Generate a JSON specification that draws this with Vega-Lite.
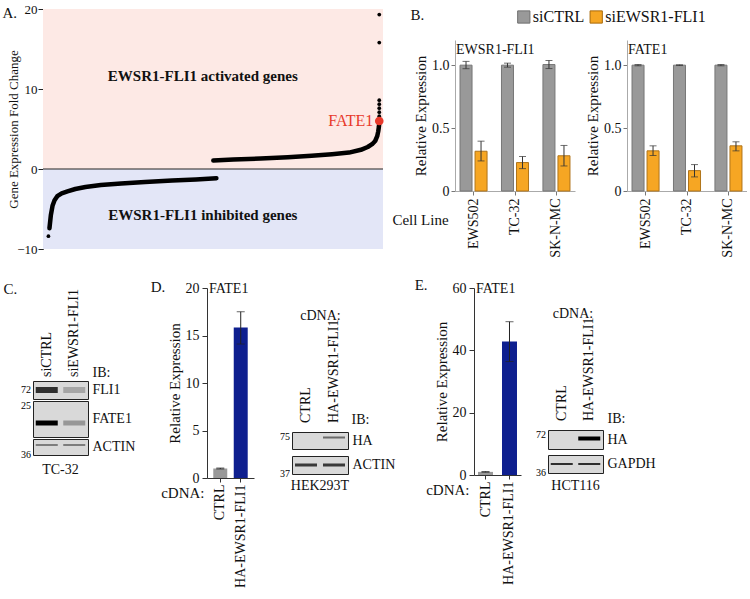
{
  "$schema": "https://vega.github.io/schema/vega-lite/v6.json",
  "background": "white",
  "padding": {"left": 2, "top": 3, "right": 0, "bottom": 0},
  "config": {
    "font": "Liberation Serif",
    "view": {"stroke": null},
    "style": {"guide-label": {"font": "Liberation Serif"}, "guide-title": {"font": "Liberation Serif"}, "group-title": {"font": "Liberation Serif"}},
    "axis": {"labelFont": "Liberation Serif", "titleFont": "Liberation Serif", "labelFontSize": 14, "titleFontSize": 15, "titleFontWeight": "normal", "labelColor": "#111", "titleColor": "#111", "domainColor": "#333", "tickColor": "#333", "grid": false, "tickSize": 4, "labelPadding": 2, "titlePadding": 3},
    "title": {"font": "Liberation Serif", "fontSize": 15, "fontWeight": "normal", "color": "#111", "anchor": "start"}
  },
  "datasets": {
    "curve": [
      {"set": "down", "rank": 19, "fc": -7.4}, {"set": "down", "rank": 23, "fc": -5.8}, {"set": "down", "rank": 28, "fc": -4.6},
      {"set": "down", "rank": 34, "fc": -3.9}, {"set": "down", "rank": 42, "fc": -3.4}, {"set": "down", "rank": 55, "fc": -3.05},
      {"set": "down", "rank": 72, "fc": -2.8}, {"set": "down", "rank": 95, "fc": -2.5}, {"set": "down", "rank": 125, "fc": -2.25},
      {"set": "down", "rank": 170, "fc": -2.0}, {"set": "down", "rank": 230, "fc": -1.8}, {"set": "down", "rank": 300, "fc": -1.62},
      {"set": "down", "rank": 380, "fc": -1.45}, {"set": "down", "rank": 450, "fc": -1.3}, {"set": "down", "rank": 510, "fc": -1.15},
      {"set": "up", "rank": 501, "fc": 1.05}, {"set": "up", "rank": 560, "fc": 1.18}, {"set": "up", "rank": 640, "fc": 1.3},
      {"set": "up", "rank": 720, "fc": 1.46}, {"set": "up", "rank": 790, "fc": 1.65}, {"set": "up", "rank": 850, "fc": 1.85},
      {"set": "up", "rank": 900, "fc": 2.05}, {"set": "up", "rank": 935, "fc": 2.4}, {"set": "up", "rank": 955, "fc": 2.75},
      {"set": "up", "rank": 968, "fc": 3.1}, {"set": "up", "rank": 977, "fc": 3.5}, {"set": "up", "rank": 983, "fc": 4.1},
      {"set": "up", "rank": 986, "fc": 4.7}, {"set": "up", "rank": 988, "fc": 5.3}, {"set": "up", "rank": 989, "fc": 5.8}
    ],
    "dots": [
      {"rank": 16, "fc": -8.4}, {"rank": 989, "fc": 6.6}, {"rank": 989, "fc": 7.1}, {"rank": 989, "fc": 7.6},
      {"rank": 989, "fc": 8.1}, {"rank": 989, "fc": 8.6}, {"rank": 989, "fc": 15.8}, {"rank": 989, "fc": 19.3}
    ],
    "fate1": [{"gene": "FATE1", "rank": 989, "fc": 6.0}],
    "regions": [
      {"label": "EWSR1-FLI1 activated genes", "lo": 0, "hi": 20, "rank": 470, "fc": 11.6},
      {"label": "EWSR1-FLI1 inhibited genes", "lo": -10, "hi": 0, "rank": 470, "fc": -5.75}
    ],
    "knockdown": [
      {"target": "EWSR1-FLI1", "line": "EWS502", "treatment": "siCTRL", "mean": 1.0, "lo": 0.972, "hi": 1.03},
      {"target": "EWSR1-FLI1", "line": "EWS502", "treatment": "siEWSR1-FLI1", "mean": 0.316, "lo": 0.239, "hi": 0.396},
      {"target": "EWSR1-FLI1", "line": "TC-32", "treatment": "siCTRL", "mean": 1.0, "lo": 0.984, "hi": 1.016},
      {"target": "EWSR1-FLI1", "line": "TC-32", "treatment": "siEWSR1-FLI1", "mean": 0.226, "lo": 0.178, "hi": 0.274},
      {"target": "EWSR1-FLI1", "line": "SK-N-MC", "treatment": "siCTRL", "mean": 1.005, "lo": 0.973, "hi": 1.037},
      {"target": "EWSR1-FLI1", "line": "SK-N-MC", "treatment": "siEWSR1-FLI1", "mean": 0.28, "lo": 0.199, "hi": 0.362},
      {"target": "FATE1", "line": "EWS502", "treatment": "siCTRL", "mean": 1.0, "lo": 0.995, "hi": 1.005},
      {"target": "FATE1", "line": "EWS502", "treatment": "siEWSR1-FLI1", "mean": 0.319, "lo": 0.282, "hi": 0.359},
      {"target": "FATE1", "line": "TC-32", "treatment": "siCTRL", "mean": 1.0, "lo": 0.997, "hi": 1.003},
      {"target": "FATE1", "line": "TC-32", "treatment": "siEWSR1-FLI1", "mean": 0.162, "lo": 0.112, "hi": 0.21},
      {"target": "FATE1", "line": "SK-N-MC", "treatment": "siCTRL", "mean": 1.0, "lo": 0.995, "hi": 1.005},
      {"target": "FATE1", "line": "SK-N-MC", "treatment": "siEWSR1-FLI1", "mean": 0.359, "lo": 0.319, "hi": 0.391}
    ],
    "overexp": [
      {"panel": "D", "cdna": "CTRL", "mean": 1.0, "lo": 0.95, "hi": 1.05},
      {"panel": "D", "cdna": "HA-EWSR1-FLI1", "mean": 15.85, "lo": 14.1, "hi": 17.5},
      {"panel": "E", "cdna": "CTRL", "mean": 1.0, "lo": 0.9, "hi": 1.1},
      {"panel": "E", "cdna": "HA-EWSR1-FLI1", "mean": 42.8, "lo": 36.4, "hi": 49.2}
    ],
    "blots": [
      {"blot": "C", "protein": "FLI1", "lane": "siCTRL", "signal": 0.85},
      {"blot": "C", "protein": "FLI1", "lane": "siEWSR1-FLI1", "signal": 0.25},
      {"blot": "C", "protein": "FATE1", "lane": "siCTRL", "signal": 1.0},
      {"blot": "C", "protein": "FATE1", "lane": "siEWSR1-FLI1", "signal": 0.3},
      {"blot": "C", "protein": "ACTIN", "lane": "siCTRL", "signal": 0.5},
      {"blot": "C", "protein": "ACTIN", "lane": "siEWSR1-FLI1", "signal": 0.5},
      {"blot": "D", "protein": "HA", "lane": "CTRL", "signal": 0.0},
      {"blot": "D", "protein": "HA", "lane": "HA-EWSR1-FLI1", "signal": 0.55},
      {"blot": "D", "protein": "ACTIN", "lane": "CTRL", "signal": 0.8},
      {"blot": "D", "protein": "ACTIN", "lane": "HA-EWSR1-FLI1", "signal": 0.8},
      {"blot": "E", "protein": "HA", "lane": "CTRL", "signal": 0.0},
      {"blot": "E", "protein": "HA", "lane": "HA-EWSR1-FLI1", "signal": 1.0},
      {"blot": "E", "protein": "GAPDH", "lane": "CTRL", "signal": 0.85},
      {"blot": "E", "protein": "GAPDH", "lane": "HA-EWSR1-FLI1", "signal": 0.85}
    ],
    "markers": [
      {"blot": "C", "protein": "FLI1", "kDa": "72"},
      {"blot": "C", "protein": "FATE1", "kDa": "25"},
      {"blot": "C", "protein": "ACTIN", "kDa": "36"},
      {"blot": "D", "protein": "HA", "kDa": "75"},
      {"blot": "D", "protein": "ACTIN", "kDa": "37"},
      {"blot": "E", "protein": "HA", "kDa": "72"},
      {"blot": "E", "protein": "GAPDH", "kDa": "36"}
    ]
  },
  "resolve": {"scale": {"color": "independent"}},
  "columns": 1,
  "align": "none",
  "spacing": 20,
  "concat": [
    {
      "columns": 2,
      "align": "none",
      "spacing": 7,
      "resolve": {"scale": {"color": "independent"}},
      "concat": [
        {
          "width": 350, "height": 240,
          "layer": [
            {"data": {"name": "regions"}, "transform": [{"filter": "datum.lo >= 0"}],
             "mark": {"type": "rect", "color": "#fde9e5"},
             "encoding": {
               "x": {"datum": 0, "type": "quantitative", "title": "A.", "scale": {"domain": [-29.4, 1000], "nice": false, "zero": false},
                     "axis": {"labels": false, "ticks": false, "domain": false, "title": "A.", "titleX": -31, "titleY": -232, "titleAngle": 0, "titleAlign": "left", "titleBaseline": "alphabetic", "titleFontSize": 15}},
               "x2": {"datum": 1000},
               "y": {"field": "lo", "type": "quantitative", "title": "Gene Expression Fold Change", "scale": {"domain": [-10, 20], "nice": false},
                     "axis": {"values": [-10, -5, 0, 5, 10, 15, 20], "offset": -10, "labelFontSize": 13, "titleFontSize": 13, "tickSize": 5, "labelPadding": 1, "titlePadding": -4, "domainColor": "#222", "tickColor": "#222"}},
               "y2": {"field": "hi"}}},
            {"data": {"name": "regions"}, "transform": [{"filter": "datum.hi <= 0"}],
             "mark": {"type": "rect", "color": "#e3e6f7"},
             "encoding": {
               "x": {"datum": 0, "type": "quantitative", "title": "A."}, "x2": {"datum": 1000},
               "y": {"field": "lo", "type": "quantitative", "title": "Gene Expression Fold Change"}, "y2": {"field": "hi"}}},
            {"data": {"name": "regions"}, "transform": [{"filter": "datum.lo == 0"}],
             "mark": {"type": "rule", "color": "#222", "strokeWidth": 1},
             "encoding": {"x": {"datum": 0, "type": "quantitative", "title": "A."}, "x2": {"datum": 1000}, "y": {"field": "lo", "type": "quantitative", "title": "Gene Expression Fold Change"}}},
            {"data": {"name": "regions"},
             "mark": {"type": "text", "fontWeight": "bold", "fontSize": 15, "color": "#111"},
             "encoding": {"x": {"field": "rank", "type": "quantitative", "title": "A."}, "y": {"field": "fc", "type": "quantitative", "title": "Gene Expression Fold Change"}, "text": {"field": "label"}}},
            {"data": {"name": "curve"},
             "mark": {"type": "line", "color": "#000", "strokeWidth": 4.5, "strokeCap": "round", "strokeJoin": "round"},
             "encoding": {"x": {"field": "rank", "type": "quantitative", "title": "A."}, "y": {"field": "fc", "type": "quantitative", "title": "Gene Expression Fold Change"}, "detail": {"field": "set"}}},
            {"data": {"name": "dots"},
             "mark": {"type": "circle", "color": "#000", "size": 14, "opacity": 1},
             "encoding": {"x": {"field": "rank", "type": "quantitative", "title": "A."}, "y": {"field": "fc", "type": "quantitative", "title": "Gene Expression Fold Change"}}},
            {"data": {"name": "fate1"},
             "mark": {"type": "circle", "color": "#e8392b", "size": 75, "opacity": 1},
             "encoding": {"x": {"field": "rank", "type": "quantitative", "title": "A."}, "y": {"field": "fc", "type": "quantitative", "title": "Gene Expression Fold Change"}}},
            {"data": {"name": "fate1"},
             "mark": {"type": "text", "color": "#e8392b", "fontSize": 16, "align": "right", "baseline": "middle", "dx": -6},
             "encoding": {"x": {"field": "rank", "type": "quantitative", "title": "A."}, "y": {"field": "fc", "type": "quantitative", "title": "Gene Expression Fold Change"}, "text": {"field": "gene"}}}
          ]
        },
        {
          "spacing": 14,
          "vconcat": [
            {
              "width": 210, "height": 16,
              "data": {"name": "knockdown"},
              "transform": [{"aggregate": [{"op": "count", "as": "n"}], "groupby": ["treatment"]}],
              "encoding": {
                "x": {"field": "treatment", "type": "nominal", "sort": ["siCTRL", "siEWSR1-FLI1"], "scale": {"type": "point", "padding": 0.95},
                      "axis": {"labels": false, "ticks": false, "domain": false, "title": "B.", "titleX": -45, "titleY": -6, "titleAngle": 0, "titleAlign": "left", "titleBaseline": "alphabetic", "titleFontSize": 15}}
              },
              "layer": [
                {"mark": {"type": "square", "size": 150, "opacity": 1, "strokeWidth": 1},
                 "encoding": {
                   "color": {"field": "treatment", "type": "nominal", "scale": {"domain": ["siCTRL", "siEWSR1-FLI1"], "range": ["#999999", "#f6a623"]}, "legend": null},
                   "stroke": {"condition": {"test": "datum.treatment == 'siCTRL'", "value": "#6f6f6f"}, "value": "#a8690a"}}},
                {"mark": {"type": "text", "align": "left", "baseline": "middle", "dx": 9, "fontSize": 16, "color": "#111"},
                 "encoding": {"text": {"field": "treatment"}}}
              ]
            },
            {
              "spacing": 10,
              "hconcat": [
                {
                  "width": 120, "height": 151,
                  "title": {"text": "EWSR1-FLI1", "fontSize": 14, "offset": -17, "dx": 1, "frame": "group"},
                  "data": {"name": "knockdown"},
                  "transform": [{"filter": "datum.target == 'EWSR1-FLI1'"}],
                  "encoding": {
                    "x": {"field": "line", "type": "nominal", "sort": ["EWS502", "TC-32", "SK-N-MC"], "scale": {"paddingInner": 0.348, "paddingOuter": 0.121},
                          "axis": {"labelAngle": -90, "title": "Cell Line", "titleAngle": 0, "titleX": -35, "titleY": 28, "titleAlign": "center", "titleBaseline": "middle", "tickSize": 4, "domainColor": "#aaa", "tickColor": "#777", "labelPadding": 3}},
                    "xOffset": {"field": "treatment", "type": "nominal", "sort": ["siCTRL", "siEWSR1-FLI1"], "scale": {"paddingInner": 0.2}}
                  },
                  "layer": [
                    {"mark": {"type": "bar", "strokeWidth": 1},
                     "encoding": {
                       "y": {"field": "mean", "type": "quantitative", "title": "Relative Expression", "scale": {"domain": [0, 1.2], "nice": false},
                             "axis": {"values": [0, 0.5, 1], "labelExpr": "datum.value == 0 ? '0' : format(datum.value, '.1f')", "tickSize": 4, "domainColor": "#aaa", "tickColor": "#777"}},
                       "color": {"field": "treatment", "type": "nominal", "scale": {"domain": ["siCTRL", "siEWSR1-FLI1"], "range": ["#999999", "#f6a623"]}, "legend": null},
                       "stroke": {"condition": {"test": "datum.treatment == 'siCTRL'", "value": "#777777"}, "value": "#b0741a"}}},
                    {"mark": {"type": "rule", "color": "#333", "strokeWidth": 1},
                     "encoding": {"y": {"field": "lo", "type": "quantitative", "title": "Relative Expression"}, "y2": {"field": "hi"}}},
                    {"mark": {"type": "tick", "orient": "horizontal", "size": 7, "thickness": 1, "color": "#333"},
                     "encoding": {"y": {"field": "lo", "type": "quantitative", "title": "Relative Expression"}}},
                    {"mark": {"type": "tick", "orient": "horizontal", "size": 7, "thickness": 1, "color": "#333"},
                     "encoding": {"y": {"field": "hi", "type": "quantitative", "title": "Relative Expression"}}}
                  ]
                },
                {
                  "width": 120, "height": 151,
                  "title": {"text": "FATE1", "fontSize": 14, "offset": -17, "dx": 1, "frame": "group"},
                  "data": {"name": "knockdown"},
                  "transform": [{"filter": "datum.target == 'FATE1'"}],
                  "encoding": {
                    "x": {"field": "line", "type": "nominal", "sort": ["EWS502", "TC-32", "SK-N-MC"], "scale": {"paddingInner": 0.348, "paddingOuter": 0.121},
                          "axis": {"labelAngle": -90, "title": null, "tickSize": 4, "domainColor": "#aaa", "tickColor": "#777", "labelPadding": 3}},
                    "xOffset": {"field": "treatment", "type": "nominal", "sort": ["siCTRL", "siEWSR1-FLI1"], "scale": {"paddingInner": 0.2}}
                  },
                  "layer": [
                    {"mark": {"type": "bar", "strokeWidth": 1},
                     "encoding": {
                       "y": {"field": "mean", "type": "quantitative", "title": "Relative Expression", "scale": {"domain": [0, 1.2], "nice": false},
                             "axis": {"values": [0, 0.5, 1], "labelExpr": "datum.value == 0 ? '0' : format(datum.value, '.1f')", "tickSize": 4, "domainColor": "#aaa", "tickColor": "#777"}},
                       "color": {"field": "treatment", "type": "nominal", "scale": {"domain": ["siCTRL", "siEWSR1-FLI1"], "range": ["#999999", "#f6a623"]}, "legend": null},
                       "stroke": {"condition": {"test": "datum.treatment == 'siCTRL'", "value": "#777777"}, "value": "#b0741a"}}},
                    {"mark": {"type": "rule", "color": "#333", "strokeWidth": 1},
                     "encoding": {"y": {"field": "lo", "type": "quantitative", "title": "Relative Expression"}, "y2": {"field": "hi"}}},
                    {"mark": {"type": "tick", "orient": "horizontal", "size": 7, "thickness": 1, "color": "#333"},
                     "encoding": {"y": {"field": "lo", "type": "quantitative", "title": "Relative Expression"}}},
                    {"mark": {"type": "tick", "orient": "horizontal", "size": 7, "thickness": 1, "color": "#333"},
                     "encoding": {"y": {"field": "hi", "type": "quantitative", "title": "Relative Expression"}}}
                  ]
                }
              ]
            }
          ]
        }
      ]
    },
    {
      "columns": 2,
      "align": "none",
      "spacing": 14,
      "concat": [
        {
          "spacing": 0,
          "vconcat": [
            {
              "width": 55, "height": 92,
              "data": {"name": "blots"},
              "transform": [{"filter": "datum.blot == 'C' && datum.protein == 'FLI1'"}],
              "mark": {"type": "text", "angle": 270, "align": "left", "baseline": "middle", "fontSize": 14, "dx": 3, "color": "#111"},
              "encoding": {
                "x": {"field": "lane", "type": "nominal", "sort": ["siCTRL", "siEWSR1-FLI1"], "scale": {"paddingInner": 0, "paddingOuter": 0},
                      "axis": {"orient": "top", "labels": false, "ticks": false, "domain": false, "title": "C.", "titleX": -30, "titleY": 5, "titleAngle": 0, "titleAlign": "left", "titleBaseline": "alphabetic", "titleFontSize": 15}},
                "y": {"datum": 0, "type": "quantitative", "scale": {"domain": [0, 1]},
                      "axis": {"orient": "right", "labels": false, "ticks": false, "domain": false, "title": "IB:", "titleX": 4, "titleY": 88, "titleAngle": 0, "titleAlign": "left", "titleBaseline": "alphabetic", "titleFontSize": 14}},
                "text": {"field": "lane"}
              }
            },
            {
              "width": 55, "height": 18,
              "view": {"fill": "#d9d9d9", "stroke": "#222", "strokeWidth": 1},
              "layer": [
                {"data": {"name": "blots"}, "transform": [{"filter": "datum.blot == 'C' && datum.protein == 'FLI1'"}],
                 "mark": {"type": "tick", "orient": "horizontal", "size": 22, "thickness": 6, "color": "#111"},
                 "encoding": {
                   "x": {"field": "lane", "type": "nominal", "sort": ["siCTRL", "siEWSR1-FLI1"], "scale": {"paddingInner": 0, "paddingOuter": 0}, "axis": null},
                   "y": {"field": "protein", "type": "nominal", "scale": {"paddingInner": 0, "paddingOuter": 0},
                         "axis": {"orient": "right", "ticks": false, "domain": false, "labelPadding": 4, "title": null}},
                   "opacity": {"field": "signal", "type": "quantitative", "scale": {"domain": [0, 1], "range": [0, 1]}, "legend": null}}},
                {"data": {"name": "markers"}, "transform": [{"filter": "datum.blot == 'C' && datum.protein == 'FLI1'"}],
                 "mark": {"type": "text", "align": "right", "baseline": "middle", "fontSize": 10, "dx": -2},
                 "encoding": {
                   "x": {"datum": "siCTRL", "type": "nominal", "bandPosition": 0},
                   "y": {"field": "protein", "type": "nominal", "bandPosition": 0.5},
                   "text": {"field": "kDa"}}}
              ]
            },
            {
              "width": 55, "height": 36,
              "view": {"fill": "#d9d9d9", "stroke": "#222", "strokeWidth": 1},
              "layer": [
                {"data": {"name": "blots"}, "transform": [{"filter": "datum.blot == 'C' && datum.protein == 'FATE1'"}],
                 "mark": {"type": "tick", "orient": "horizontal", "size": 22, "thickness": 5, "color": "#000", "yOffset": 4},
                 "encoding": {
                   "x": {"field": "lane", "type": "nominal", "sort": ["siCTRL", "siEWSR1-FLI1"], "scale": {"paddingInner": 0, "paddingOuter": 0}, "axis": null},
                   "y": {"field": "protein", "type": "nominal", "scale": {"paddingInner": 0, "paddingOuter": 0},
                         "axis": {"orient": "right", "ticks": false, "domain": false, "labelPadding": 4, "title": null}},
                   "opacity": {"field": "signal", "type": "quantitative", "scale": {"domain": [0, 1], "range": [0, 1]}, "legend": null}}},
                {"data": {"name": "markers"}, "transform": [{"filter": "datum.blot == 'C' && datum.protein == 'FATE1'"}],
                 "mark": {"type": "text", "align": "right", "baseline": "top", "fontSize": 10, "dx": -2},
                 "encoding": {
                   "x": {"datum": "siCTRL", "type": "nominal", "bandPosition": 0},
                   "y": {"field": "protein", "type": "nominal", "bandPosition": 0},
                   "text": {"field": "kDa"}}}
              ]
            },
            {
              "width": 55, "height": 16,
              "view": {"fill": "#d9d9d9", "stroke": "#222", "strokeWidth": 1},
              "title": {"text": "TC-32", "orient": "bottom", "anchor": "middle", "frame": "group", "offset": 3, "fontSize": 14},
              "layer": [
                {"data": {"name": "blots"}, "transform": [{"filter": "datum.blot == 'C' && datum.protein == 'ACTIN'"}],
                 "mark": {"type": "tick", "orient": "horizontal", "size": 22, "thickness": 2, "color": "#222", "yOffset": -2},
                 "encoding": {
                   "x": {"field": "lane", "type": "nominal", "sort": ["siCTRL", "siEWSR1-FLI1"], "scale": {"paddingInner": 0, "paddingOuter": 0}, "axis": null},
                   "y": {"field": "protein", "type": "nominal", "scale": {"paddingInner": 0, "paddingOuter": 0},
                         "axis": {"orient": "right", "ticks": false, "domain": false, "labelPadding": 4, "title": null}},
                   "opacity": {"field": "signal", "type": "quantitative", "scale": {"domain": [0, 1], "range": [0, 1]}, "legend": null}}},
                {"data": {"name": "markers"}, "transform": [{"filter": "datum.blot == 'C' && datum.protein == 'ACTIN'"}],
                 "mark": {"type": "text", "align": "right", "baseline": "middle", "fontSize": 10, "dx": -2},
                 "encoding": {
                   "x": {"datum": "siCTRL", "type": "nominal", "bandPosition": 0},
                   "y": {"field": "protein", "type": "nominal", "bandPosition": 1},
                   "text": {"field": "kDa"}}}
              ]
            }
          ]
        },
        {
          "columns": 2,
          "align": "none",
          "spacing": 18,
          "concat": [
            {
              "columns": 2,
              "align": "none",
              "spacing": 25,
              "title": {"text": "D.", "fontSize": 15, "dx": -10, "dy": 18},
              "concat": [
                {
                  "width": 47, "height": 190,
                  "title": {"text": "FATE1", "fontSize": 14, "offset": -15, "dx": 2, "frame": "group"},
                  "data": {"name": "overexp"},
                  "transform": [{"filter": "datum.panel == 'D'"}],
                  "encoding": {
                    "x": {"field": "cdna", "type": "nominal", "sort": ["CTRL", "HA-EWSR1-FLI1"], "scale": {"paddingInner": 0.317, "paddingOuter": 0.307},
                          "axis": {"labelAngle": -90, "title": "cDNA:", "titleAngle": 0, "titleX": -3, "titleY": 14, "titleAlign": "right", "titleBaseline": "middle", "tickSize": 4, "labelPadding": 2}}
                  },
                  "layer": [
                    {"mark": {"type": "bar"},
                     "encoding": {
                       "y": {"field": "mean", "type": "quantitative", "title": "Relative Expression", "scale": {"domain": [0, 20], "nice": false}, "axis": {"values": [0, 5, 10, 15, 20], "tickSize": 5, "labelPadding": 3}},
                       "color": {"condition": {"test": "datum.cdna == 'CTRL'", "value": "#999999"}, "value": "#0e1f8f"}}},
                    {"mark": {"type": "rule", "color": "#222", "strokeWidth": 1},
                     "encoding": {"y": {"field": "lo", "type": "quantitative", "title": "Relative Expression"}, "y2": {"field": "hi"}}},
                    {"mark": {"type": "tick", "orient": "horizontal", "size": 8, "thickness": 1, "color": "#222"},
                     "encoding": {"y": {"field": "lo", "type": "quantitative", "title": "Relative Expression"}}},
                    {"mark": {"type": "tick", "orient": "horizontal", "size": 8, "thickness": 1, "color": "#222"},
                     "encoding": {"y": {"field": "hi", "type": "quantitative", "title": "Relative Expression"}}}
                  ]
                },
                {
                  "spacing": 5,
                  "vconcat": [
                    {
                      "width": 56, "height": 138,
                      "data": {"name": "blots"},
                      "transform": [{"filter": "datum.blot == 'D' && datum.protein == 'HA'"}],
                      "mark": {"type": "text", "angle": 270, "align": "left", "baseline": "middle", "fontSize": 14, "dx": 3, "color": "#111"},
                      "encoding": {
                        "x": {"field": "lane", "type": "nominal", "sort": ["CTRL", "HA-EWSR1-FLI1"], "scale": {"paddingInner": 0, "paddingOuter": 0},
                              "axis": {"orient": "top", "labels": false, "ticks": false, "domain": false, "title": "cDNA:", "titleX": 28, "titleY": 31, "titleAngle": 0, "titleAlign": "center", "titleBaseline": "alphabetic", "titleFontSize": 14}},
                        "y": {"datum": 0, "type": "quantitative", "scale": {"domain": [0, 1]},
                              "axis": {"orient": "right", "labels": false, "ticks": false, "domain": false, "title": "IB:", "titleX": 3, "titleY": 135, "titleAngle": 0, "titleAlign": "left", "titleBaseline": "alphabetic", "titleFontSize": 14}},
                        "text": {"field": "lane"}
                      }
                    },
                    {
                      "width": 56, "height": 17,
                      "view": {"fill": "#d9d9d9", "stroke": "#222", "strokeWidth": 1},
                      "layer": [
                        {"data": {"name": "blots"}, "transform": [{"filter": "datum.blot == 'D' && datum.protein == 'HA'"}],
                         "mark": {"type": "tick", "orient": "horizontal", "size": 22, "thickness": 2, "color": "#111", "yOffset": -3},
                         "encoding": {
                           "x": {"field": "lane", "type": "nominal", "sort": ["CTRL", "HA-EWSR1-FLI1"], "scale": {"paddingInner": 0, "paddingOuter": 0}, "axis": null},
                           "y": {"field": "protein", "type": "nominal", "scale": {"paddingInner": 0, "paddingOuter": 0},
                                 "axis": {"orient": "right", "ticks": false, "domain": false, "labelPadding": 4, "title": null}},
                           "opacity": {"field": "signal", "type": "quantitative", "scale": {"domain": [0, 1], "range": [0, 1]}, "legend": null}}},
                        {"data": {"name": "markers"}, "transform": [{"filter": "datum.blot == 'D' && datum.protein == 'HA'"}],
                         "mark": {"type": "text", "align": "right", "baseline": "top", "fontSize": 10, "dx": -2},
                         "encoding": {
                           "x": {"datum": "CTRL", "type": "nominal", "bandPosition": 0},
                           "y": {"field": "protein", "type": "nominal", "bandPosition": 0},
                           "text": {"field": "kDa"}}}
                      ]
                    },
                    {
                      "width": 56, "height": 18,
                      "view": {"fill": "#d9d9d9", "stroke": "#222", "strokeWidth": 1},
                      "title": {"text": "HEK293T", "orient": "bottom", "anchor": "middle", "frame": "group", "offset": 0, "fontSize": 14},
                      "layer": [
                        {"data": {"name": "blots"}, "transform": [{"filter": "datum.blot == 'D' && datum.protein == 'ACTIN'"}],
                         "mark": {"type": "tick", "orient": "horizontal", "size": 22, "thickness": 3, "color": "#111"},
                         "encoding": {
                           "x": {"field": "lane", "type": "nominal", "sort": ["CTRL", "HA-EWSR1-FLI1"], "scale": {"paddingInner": 0, "paddingOuter": 0}, "axis": null},
                           "y": {"field": "protein", "type": "nominal", "scale": {"paddingInner": 0, "paddingOuter": 0},
                                 "axis": {"orient": "right", "ticks": false, "domain": false, "labelPadding": 4, "title": null}},
                           "opacity": {"field": "signal", "type": "quantitative", "scale": {"domain": [0, 1], "range": [0, 1]}, "legend": null}}},
                        {"data": {"name": "markers"}, "transform": [{"filter": "datum.blot == 'D' && datum.protein == 'ACTIN'"}],
                         "mark": {"type": "text", "align": "right", "baseline": "middle", "fontSize": 10, "dx": -2},
                         "encoding": {
                           "x": {"datum": "CTRL", "type": "nominal", "bandPosition": 0},
                           "y": {"field": "protein", "type": "nominal", "bandPosition": 1},
                           "text": {"field": "kDa"}}}
                      ]
                    }
                  ]
                }
              ]
            },
            {
              "columns": 2,
              "align": "none",
              "spacing": 14,
              "title": {"text": "E.", "fontSize": 15, "dx": -11, "dy": 16},
              "concat": [
                {
                  "width": 47, "height": 187,
                  "title": {"text": "FATE1", "fontSize": 14, "offset": -15, "dx": 2, "frame": "group"},
                  "data": {"name": "overexp"},
                  "transform": [{"filter": "datum.panel == 'E'"}],
                  "encoding": {
                    "x": {"field": "cdna", "type": "nominal", "sort": ["CTRL", "HA-EWSR1-FLI1"], "scale": {"paddingInner": 0.375, "paddingOuter": 0.167},
                          "axis": {"labelAngle": -90, "title": "cDNA:", "titleAngle": 0, "titleX": -5, "titleY": 14, "titleAlign": "right", "titleBaseline": "middle", "tickSize": 4, "labelPadding": 2}}
                  },
                  "layer": [
                    {"mark": {"type": "bar"},
                     "encoding": {
                       "y": {"field": "mean", "type": "quantitative", "title": "Relative Expression", "scale": {"domain": [0, 60], "nice": false}, "axis": {"values": [0, 20, 40, 60], "tickSize": 5, "labelPadding": 3}},
                       "color": {"condition": {"test": "datum.cdna == 'CTRL'", "value": "#999999"}, "value": "#0e1f8f"}}},
                    {"mark": {"type": "rule", "color": "#222", "strokeWidth": 1},
                     "encoding": {"y": {"field": "lo", "type": "quantitative", "title": "Relative Expression"}, "y2": {"field": "hi"}}},
                    {"mark": {"type": "tick", "orient": "horizontal", "size": 8, "thickness": 1, "color": "#222"},
                     "encoding": {"y": {"field": "lo", "type": "quantitative", "title": "Relative Expression"}}},
                    {"mark": {"type": "tick", "orient": "horizontal", "size": 8, "thickness": 1, "color": "#222"},
                     "encoding": {"y": {"field": "hi", "type": "quantitative", "title": "Relative Expression"}}}
                  ]
                },
                {
                  "spacing": 4,
                  "vconcat": [
                    {
                      "width": 55, "height": 136,
                      "data": {"name": "blots"},
                      "transform": [{"filter": "datum.blot == 'E' && datum.protein == 'HA'"}],
                      "mark": {"type": "text", "angle": 270, "align": "left", "baseline": "middle", "fontSize": 14, "dx": 3, "color": "#111"},
                      "encoding": {
                        "x": {"field": "lane", "type": "nominal", "sort": ["CTRL", "HA-EWSR1-FLI1"], "scale": {"paddingInner": 0, "paddingOuter": 0},
                              "axis": {"orient": "top", "labels": false, "ticks": false, "domain": false, "title": "cDNA:", "titleX": 24.5, "titleY": 29, "titleAngle": 0, "titleAlign": "center", "titleBaseline": "alphabetic", "titleFontSize": 14}},
                        "y": {"datum": 0, "type": "quantitative", "scale": {"domain": [0, 1]},
                              "axis": {"orient": "right", "labels": false, "ticks": false, "domain": false, "title": "IB:", "titleX": 4, "titleY": 134, "titleAngle": 0, "titleAlign": "left", "titleBaseline": "alphabetic", "titleFontSize": 14}},
                        "text": {"field": "lane"}
                      }
                    },
                    {
                      "width": 55, "height": 19,
                      "view": {"fill": "#d9d9d9", "stroke": "#222", "strokeWidth": 1},
                      "layer": [
                        {"data": {"name": "blots"}, "transform": [{"filter": "datum.blot == 'E' && datum.protein == 'HA'"}],
                         "mark": {"type": "tick", "orient": "horizontal", "size": 22, "thickness": 4, "color": "#000", "yOffset": -1},
                         "encoding": {
                           "x": {"field": "lane", "type": "nominal", "sort": ["CTRL", "HA-EWSR1-FLI1"], "scale": {"paddingInner": 0, "paddingOuter": 0}, "axis": null},
                           "y": {"field": "protein", "type": "nominal", "scale": {"paddingInner": 0, "paddingOuter": 0},
                                 "axis": {"orient": "right", "ticks": false, "domain": false, "labelPadding": 4, "title": null}},
                           "opacity": {"field": "signal", "type": "quantitative", "scale": {"domain": [0, 1], "range": [0, 1]}, "legend": null}}},
                        {"data": {"name": "markers"}, "transform": [{"filter": "datum.blot == 'E' && datum.protein == 'HA'"}],
                         "mark": {"type": "text", "align": "right", "baseline": "top", "fontSize": 10, "dx": -2},
                         "encoding": {
                           "x": {"datum": "CTRL", "type": "nominal", "bandPosition": 0},
                           "y": {"field": "protein", "type": "nominal", "bandPosition": 0},
                           "text": {"field": "kDa"}}}
                      ]
                    },
                    {
                      "width": 55, "height": 18,
                      "view": {"fill": "#d9d9d9", "stroke": "#222", "strokeWidth": 1},
                      "title": {"text": "HCT116", "orient": "bottom", "anchor": "middle", "frame": "group", "offset": 1, "fontSize": 14},
                      "layer": [
                        {"data": {"name": "blots"}, "transform": [{"filter": "datum.blot == 'E' && datum.protein == 'GAPDH'"}],
                         "mark": {"type": "tick", "orient": "horizontal", "size": 22, "thickness": 2, "color": "#111"},
                         "encoding": {
                           "x": {"field": "lane", "type": "nominal", "sort": ["CTRL", "HA-EWSR1-FLI1"], "scale": {"paddingInner": 0, "paddingOuter": 0}, "axis": null},
                           "y": {"field": "protein", "type": "nominal", "scale": {"paddingInner": 0, "paddingOuter": 0},
                                 "axis": {"orient": "right", "ticks": false, "domain": false, "labelPadding": 4, "title": null}},
                           "opacity": {"field": "signal", "type": "quantitative", "scale": {"domain": [0, 1], "range": [0, 1]}, "legend": null}}},
                        {"data": {"name": "markers"}, "transform": [{"filter": "datum.blot == 'E' && datum.protein == 'GAPDH'"}],
                         "mark": {"type": "text", "align": "right", "baseline": "middle", "fontSize": 10, "dx": -2},
                         "encoding": {
                           "x": {"datum": "CTRL", "type": "nominal", "bandPosition": 0},
                           "y": {"field": "protein", "type": "nominal", "bandPosition": 1},
                           "text": {"field": "kDa"}}}
                      ]
                    }
                  ]
                }
              ]
            }
          ]
        }
      ]
    }
  ]
}
